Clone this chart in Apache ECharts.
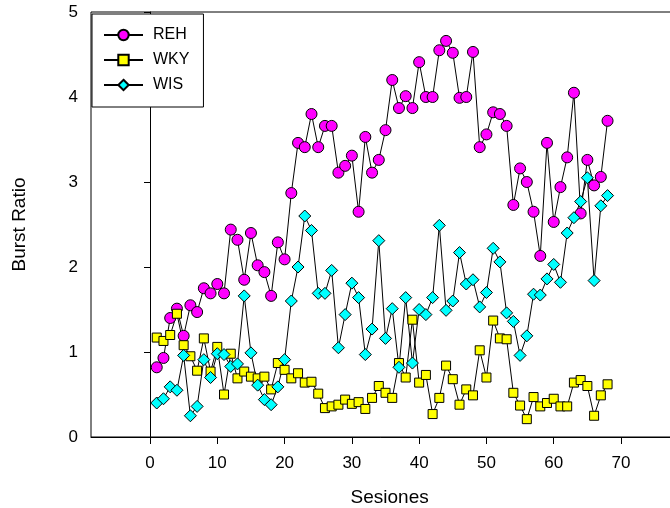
<!DOCTYPE html>
<html>
<head>
<meta charset="utf-8">
<script src="https://cdn.jsdelivr.net/npm/echarts@6/dist/echarts.min.js"></script>
<style>
  html, body { margin: 0; padding: 0; background: #fff; }
  #chart { width: 670px; height: 508px; }
</style>
</head>
<body>
<div id="chart"></div>
<script>
// Burst ratio per session for three subjects
const sessions = Array.from({ length: 68 }, (_, i) => i + 1);

const REH = [0.82, 0.93, 1.40, 1.51, 1.19, 1.55, 1.47, 1.75, 1.69, 1.80,
             1.69, 2.44, 2.32, 1.85, 2.40, 2.02, 1.94, 1.66, 2.29, 2.09,
             2.87, 3.46, 3.41, 3.80, 3.41, 3.66, 3.66, 3.11, 3.19, 3.31,
             2.65, 3.53, 3.11, 3.26, 3.61, 4.20, 3.87, 4.01, 3.87, 4.41,
             4.00, 4.00, 4.55, 4.66, 4.52, 3.99, 4.00, 4.53, 3.41, 3.56,
             3.82, 3.80, 3.66, 2.73, 3.16, 3.00, 2.65, 2.13, 3.46, 2.53,
             2.94, 3.29, 4.05, 2.63, 3.26, 2.96, 3.06, 3.72];

const WKY = [1.17, 1.13, 1.20, 1.45, 1.08, 0.95, 0.78, 1.16, 0.77, 1.06,
             0.50, 0.98, 0.69, 0.77, 0.71, 0.69, 0.71, 0.56, 0.87, 0.79,
             0.69, 0.75, 0.64, 0.65, 0.51, 0.34, 0.36, 0.38, 0.44, 0.39,
             0.41, 0.33, 0.46, 0.60, 0.52, 0.46, 0.87, 0.70, 1.38, 0.64,
             0.73, 0.27, 0.46, 0.84, 0.68, 0.38, 0.56, 0.49, 1.02, 0.70,
             1.37, 1.16, 1.15, 0.52, 0.37, 0.21, 0.47, 0.36, 0.40, 0.45,
             0.36, 0.36, 0.64, 0.67, 0.60, 0.25, 0.49, 0.62];

const WIS = [0.40, 0.45, 0.59, 0.55, 0.96, 0.25, 0.36, 0.91, 0.70, 0.98,
             0.97, 0.83, 0.86, 1.66, 0.99, 0.61, 0.44, 0.38, 0.59, 0.91,
             1.60, 2.00, 2.60, 2.43, 1.69, 1.69, 1.96, 1.05, 1.44, 1.81,
             1.64, 0.97, 1.27, 2.31, 1.16, 1.51, 0.82, 1.64, 0.87, 1.50,
             1.44, 1.64, 2.49, 1.49, 1.60, 2.17, 1.80, 1.85, 1.53, 1.70,
             2.22, 2.06, 1.46, 1.36, 0.96, 1.19, 1.68, 1.67, 1.86, 2.03,
             1.82, 2.40, 2.58, 2.77, 3.05, 1.84, 2.72, 2.84];

const xTicks = [0, 10, 20, 30, 40, 50, 60, 70];
const yTicks = [0, 1, 2, 3, 4, 5];

const FONT = 'Liberation Sans, Arial, sans-serif';

function pairs(values) {
  return sessions.map((s, i) => [s, values[i]]);
}

function makeSeries(name, values, symbol, size, color) {
  return {
    name: name,
    type: 'line',
    data: pairs(values),
    symbol: symbol,
    symbolSize: size,
    showAllSymbol: true,
    lineStyle: { color: '#000', width: 1 },
    itemStyle: { color: color, borderColor: '#000', borderWidth: 1 },
    emphasis: { disabled: true }
  };
}

const chart = echarts.init(document.getElementById('chart'), null, { renderer: 'canvas' });

chart.setOption({
  animation: false,
  backgroundColor: '#fff',
  textStyle: { fontFamily: FONT, color: '#000' },
  grid: {
    left: 91, top: 12, right: -18.3, bottom: 71,
    outerBoundsMode: 'none',
    containLabel: false,
    show: true, borderColor: '#000', borderWidth: 1,
    backgroundColor: 'transparent'
  },
  legend: {
    left: 92, top: 14,
    orient: 'vertical',
    borderColor: '#000', borderWidth: 1,
    backgroundColor: '#fff',
    padding: [13, 14, 14, 11],
    itemWidth: 39, itemHeight: 13, itemGap: 9,
    textStyle: { fontSize: 16, fontFamily: FONT, color: '#000', padding: [0, 0, 0, 5] },
    data: ['REH', 'WKY', 'WIS']
  },
  xAxis: {
    type: 'value',
    min: -8.77, max: 80,
    name: 'Sesiones',
    nameLocation: 'middle',
    nameGap: 51,
    nameTextStyle: { fontSize: 19, fontFamily: FONT, color: '#000' },
    axisLine: { show: true, lineStyle: { color: '#000', width: 1 } },
    axisTick: { show: true, customValues: xTicks, length: 7, lineStyle: { color: '#000' } },
    axisLabel: { customValues: xTicks, fontSize: 17, fontFamily: FONT, color: '#000', margin: 18 },
    splitLine: { show: false }
  },
  yAxis: {
    type: 'value',
    min: 0, max: 5, interval: 1,
    name: 'Burst Ratio',
    nameLocation: 'middle',
    nameGap: 62,
    nameTextStyle: { fontSize: 19, fontFamily: FONT, color: '#000' },
    axisLine: { show: true, lineStyle: { color: '#000', width: 1 } },
    axisTick: { show: true, customValues: yTicks, length: 6, lineStyle: { color: '#000' } },
    axisLabel: { customValues: yTicks, fontSize: 17, fontFamily: FONT, color: '#000', margin: 13 },
    splitLine: { show: false }
  },
  series: [
    makeSeries('REH', REH, 'circle', 11, '#ff00ff'),
    makeSeries('WKY', WKY, 'rect', 9, '#ffff00'),
    makeSeries('WIS', WIS, 'diamond', 12, '#00ffff')
  ]
});
</script>
</body>
</html>
